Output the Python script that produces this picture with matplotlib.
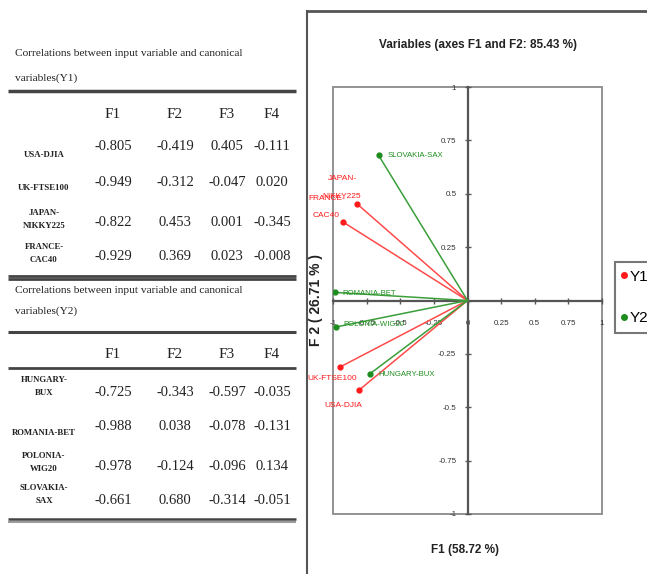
import matplotlib
matplotlib.use('Agg')
import matplotlib.pyplot as plt
from matplotlib.lines import Line2D
from matplotlib.patches import Rectangle

W, H = 647, 574

# ---------------- data ----------------
factors = ['F1', 'F2', 'F3', 'F4']

y1_title = 'Correlations between input variable and canonical\nvariables(Y1)'
y1_names = ['USA-DJIA', 'UK-FTSE100', 'JAPAN-\nNIKKY225', 'FRANCE-\nCAC40']
y1_F1 = [-0.805, -0.949, -0.822, -0.929]
y1_F2 = [-0.419, -0.312, 0.453, 0.369]
y1_F3 = [0.405, -0.047, 0.001, 0.023]
y1_F4 = [-0.111, 0.020, -0.345, -0.008]

y2_title = 'Correlations between input variable and canonical\nvariables(Y2)'
y2_names = ['HUNGARY-\nBUX', 'ROMANIA-BET', 'POLONIA-\nWIG20', 'SLOVAKIA-\nSAX']
y2_F1 = [-0.725, -0.988, -0.978, -0.661]
y2_F2 = [-0.343, 0.038, -0.124, 0.680]
y2_F3 = [-0.597, -0.078, -0.096, -0.314]
y2_F4 = [-0.035, -0.131, 0.134, -0.051]

y1_plot_labels = ['USA-DJIA', 'UK-FTSE100', 'JAPAN-\nNIKKY225', 'FRANCE-\nCAC40']
y2_plot_labels = ['HUNGARY-BUX', 'ROMANIA-BET', 'POLONIA-WIG20', 'SLOVAKIA-SAX']

ticks = [-1, -0.75, -0.5, -0.25, 0, 0.25, 0.5, 0.75, 1]
x_tick_labels = ['-1', '-0.75', '-0.5', '-0.25', '0', '0.25', '0.5', '0.75', '1']
y_tick_labels = ['-1', '-0.75', '-0.5', '-0.25', '', '0.25', '0.5', '0.75', '1']

chart_title = 'Variables (axes F1 and F2: 85.43 %)'
x_label = 'F1 (58.72 %)'
y_label = 'F 2 ( 26.71 % )'
legend_labels = ['Y1', 'Y2']

# ---------------- styles ----------------
NARROW = ['Liberation Sans Narrow', 'Liberation Sans', 'DejaVu Sans']
SERIF = ['Liberation Serif', 'DejaVu Serif']
RED = '#ff1a1a'
RED_LINE = '#ff4a4a'
GREEN = '#1e8c1e'
GREEN_LINE = '#3a9e3a'
DARK = '#555555'


def fx(px):
    return px / W


def fy(py):
    return 1 - py / H


fig = plt.figure(figsize=(W / 100, H / 100), dpi=100)
fig.patch.set_facecolor('white')


def hline(y, x0, x1, lw, color='#444444'):
    fig.add_artist(Line2D([fx(x0), fx(x1)], [fy(y), fy(y)], transform=fig.transFigure,
                          color=color, lw=lw, solid_capstyle='butt'))


col_x = [113, 175, 227, 272]
label_x = 44


def draw_table(title, title_y, title_ls, names, cols, header_y, val_ys, lab_ys, lab_ls):
    fig.text(fx(15), fy(title_y), title, family=SERIF, fontsize=8.2, ha='left', va='center',
             color='#222222', linespacing=title_ls)
    for cx, f in zip(col_x, factors):
        fig.text(fx(cx), fy(header_y), f, family=SERIF, fontsize=11, ha='center', va='center',
                 color='#222222')
    for i, name in enumerate(names):
        fig.text(fx(label_x), fy(lab_ys[i]), name, family=SERIF, fontsize=6.3, ha='center',
                 va='center', color='#222222', linespacing=lab_ls[i], fontweight='bold')
        for cx, col in zip(col_x, cols):
            fig.text(fx(cx), fy(val_ys[i]), '%.3f' % col[i], family=SERIF, fontsize=10.5,
                     ha='center', va='center', color='#222222')


# table 1
draw_table(y1_title, 66, 3.1, y1_names, [y1_F1, y1_F2, y1_F3, y1_F4], 115,
           [147, 182, 223, 257], [155, 188, 219.5, 253.5], [1, 1, 1.9, 1.7])
hline(91, 8, 296, 2.5)
hline(276, 8, 296, 2.0)
hline(279, 8, 296, 2.0)

# table 2
draw_table(y2_title, 301, 2.5, y2_names, [y2_F1, y2_F2, y2_F3, y2_F4], 355,
           [393, 427, 467, 500], [386.5, 433, 462.5, 494.5], [1.7, 1, 1.9, 1.9])
hline(332, 8, 296, 2.2)
hline(368, 8, 296, 2.0)
hline(519, 8, 296, 1.8)
hline(522, 8, 296, 1.4, '#999999')

# outer frame of right panel
fig.add_artist(Line2D([fx(306.5), fx(306.5)], [fy(11), 0], transform=fig.transFigure,
                      color=DARK, lw=1.5))
fig.add_artist(Line2D([fx(306.5), 1], [fy(11), fy(11)], transform=fig.transFigure,
                      color=DARK, lw=2))

# ---------------- biplot ----------------
ax = fig.add_axes([fx(333), fy(514), (602 - 333) / W, (514 - 87) / H])
ax.set_xlim(-1, 1)
ax.set_ylim(-1, 1)
ax.set_facecolor('white')
for s in ['top', 'right']:
    ax.spines[s].set_visible(False)
for s in ['left', 'bottom']:
    ax.spines[s].set_position(('data', 0))
    ax.spines[s].set_color(DARK)
    ax.spines[s].set_linewidth(1.6)
ax.add_patch(Rectangle((-1, -1), 2, 2, fill=False, edgecolor='#8a8a8a', lw=1.3,
                       clip_on=False, zorder=1))
ax.set_xticks(ticks)
ax.set_xticklabels(x_tick_labels)
ax.set_yticks(ticks)
ax.set_yticklabels(y_tick_labels)
ax.tick_params(direction='inout', length=4, width=1, colors=DARK, labelsize=5.8, pad=6)
ax.tick_params(axis='x', pad=12)
for lab in ax.get_xticklabels() + ax.get_yticklabels():
    lab.set_family(NARROW)
    lab.set_color('#333333')

y1_offsets = [(-16, -16), (-8, -11), (-15, 16), (-16, 15)]
y1_ls = [1, 1, 3.2, 3.0]
for x, y, lab, off, ls in zip(y1_F1, y1_F2, y1_plot_labels, y1_offsets, y1_ls):
    ax.plot([0, x], [0, y], color=RED_LINE, lw=1.1, zorder=3)
    ax.plot([x], [y], 'o', color=RED, ms=3.5, zorder=4)
    ax.annotate(lab, (x, y), xytext=off, textcoords='offset pixels', ha='center', va='center',
                color=RED, fontsize=6, family=NARROW, linespacing=ls, zorder=5)

y2_offsets = [(8, -1), (8, -1), (7, 2), (9, 0)]
for x, y, lab, off in zip(y2_F1, y2_F2, y2_plot_labels, y2_offsets):
    ax.plot([0, x], [0, y], color=GREEN_LINE, lw=1.1, zorder=3)
    ax.plot([x], [y], 'o', color=GREEN, ms=3.5, zorder=4)
    ax.annotate(lab, (x, y), xytext=off, textcoords='offset pixels', ha='left', va='center',
                color=GREEN, fontsize=5.6, family=NARROW, zorder=5)

fig.text(fx(478), fy(45), chart_title, ha='center', va='center', fontsize=8.5,
         fontweight='bold', family=NARROW, color='#222222')
fig.text(fx(465), fy(550), x_label, ha='center', va='center', fontsize=8.5,
         fontweight='bold', family=NARROW, color='#222222')
fig.text(fx(316), fy(300), y_label, ha='center', va='center', fontsize=10, rotation=90,
         fontweight='bold', family=NARROW, color='#222222')

handles = [Line2D([], [], ls='none', marker='o', color=RED, ms=4),
           Line2D([], [], ls='none', marker='o', color=GREEN, ms=4)]
leg = ax.legend(handles, legend_labels, loc='upper left', bbox_to_anchor=(fx(615), fy(262)),
                bbox_transform=fig.transFigure, frameon=True, fancybox=False,
                handlelength=0.2, handletextpad=0.25, labelspacing=1.8, borderpad=0.5,
                borderaxespad=0, prop={'family': NARROW, 'size': 11})
leg.get_frame().set_edgecolor(DARK)
leg.get_frame().set_linewidth(1.5)

fig.savefig('out.png', dpi=100)
